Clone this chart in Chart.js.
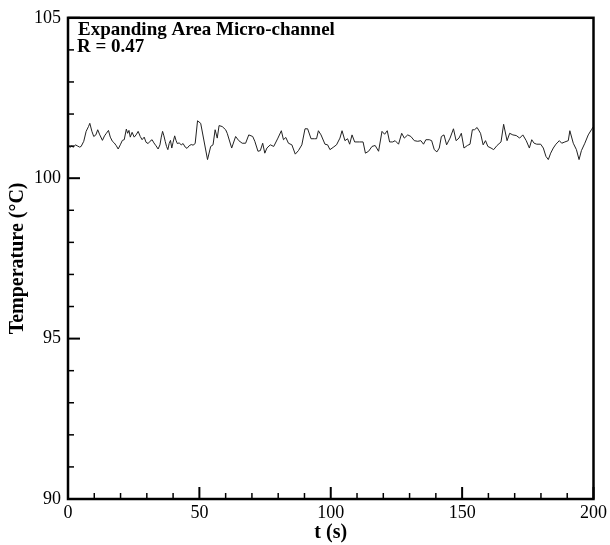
<!DOCTYPE html>
<html>
<head>
<meta charset="utf-8">
<script src="https://cdn.jsdelivr.net/npm/chart.js@4.4.0/dist/chart.umd.min.js"></script>
<style>
html,body{margin:0;padding:0;background:#fff;}
canvas{display:block;}
</style>
</head>
<body>
<canvas id="c" width="610" height="545"></canvas>
<script>
const timeValues = [0,1.0,1.5,2.0,2.8,3.5,4.4,5.0,6.0,6.9,7.8,8.3,9.1,9.8,10.6,11.3,12.1,13.1,13.9,14.6,15.4,16.1,16.9,17.6,18.4,19.1,19.9,20.7,21.4,22.2,22.7,23.2,23.7,24.4,25.2,25.9,26.7,27.5,28.2,29.0,29.7,30.5,31.2,32.0,32.7,33.5,34.3,35.0,35.5,36.0,36.5,37.0,37.5,38.0,38.5,39.0,39.5,40.0,40.6,41.1,41.6,42.3,43.1,43.8,44.6,45.3,46.1,46.9,47.6,48.4,49.3,50.5,53.1,54.3,55.2,56.0,56.8,57.5,58.7,60.0,60.6,62.3,63.8,65.0,66.3,67.6,68.8,70.3,71.1,72.3,73.2,74.1,74.9,75.7,77.0,78.3,79.9,81.2,82.0,82.9,83.9,85.2,86.5,87.7,89.0,90.2,91.2,92.5,93.8,94.6,95.3,96.3,97.8,98.8,99.7,100.9,102.2,103.5,104.3,105.4,106.4,107.2,108.1,109.1,111.0,112.3,113.2,114.4,115.7,116.9,118.2,119.5,120.5,121.5,122.4,123.6,124.5,125.8,127.0,128.0,129.3,130.5,131.8,133.1,134.3,135.3,136.2,137.5,138.4,139.4,140.4,141.3,142.1,143.1,144.1,145.4,146.7,147.7,148.8,149.7,150.7,152.0,153.0,153.9,154.7,155.7,157.0,158.0,158.9,159.8,161.0,162.0,163.3,164.8,165.8,167.1,168.1,169.3,170.6,171.9,173.1,174.4,175.6,176.5,177.4,178.4,179.9,180.9,181.9,182.8,183.7,184.7,185.7,187.0,187.9,189.1,190.4,191.0,192.3,193.5,194.5,195.4,196.7,198.0,199.2,200.0];
const temperatureValues = [100.99,100.97,101.01,100.96,101.04,101.01,100.97,100.99,101.15,101.46,101.61,101.71,101.46,101.30,101.35,101.51,101.35,101.18,101.32,101.40,101.49,101.28,101.15,101.10,101.01,100.91,101.04,101.18,101.20,101.53,101.40,101.49,101.28,101.43,101.28,101.35,101.46,101.30,101.20,101.28,101.12,101.08,101.15,101.20,101.10,101.01,100.91,101.04,101.28,101.46,101.32,101.15,100.99,100.89,101.08,101.18,100.94,101.12,101.32,101.18,101.08,101.10,101.04,101.08,100.97,100.93,101.01,101.05,101.03,101.08,101.79,101.71,100.58,100.99,101.04,101.51,101.25,101.64,101.61,101.51,101.40,100.94,101.30,101.17,101.09,101.09,101.35,101.30,101.15,100.84,100.86,101.09,100.78,100.94,101.04,100.99,101.25,101.48,101.20,101.27,101.09,101.04,100.75,100.86,101.04,101.54,101.54,101.23,101.23,101.23,101.48,101.35,101.06,101.04,100.89,100.96,101.04,101.25,101.48,101.17,101.23,101.06,101.35,101.13,101.13,101.13,100.78,100.84,100.99,101.02,100.84,101.46,101.37,101.48,101.13,101.13,101.17,101.06,101.40,101.25,101.35,101.30,101.17,101.15,101.17,101.06,101.20,101.20,101.17,100.89,100.82,100.94,101.30,101.35,101.04,101.25,101.54,101.17,101.25,101.40,100.94,101.02,101.06,101.51,101.51,101.58,101.40,101.04,101.17,100.99,100.94,100.89,101.02,101.13,101.68,101.17,101.40,101.35,101.33,101.25,101.35,101.17,100.94,101.20,101.09,101.06,101.06,100.94,100.68,100.58,100.78,100.94,101.06,101.17,101.09,101.13,101.17,101.48,101.09,100.89,100.58,100.86,101.09,101.35,101.51,101.61];
const xTickValues = [0,50,100,150,200];
const yTickValues = [90,95,100,105];
const xTitle = 't (s)';
const yTitle = 'Temperature (\u00B0C)';
const annotationLines = ['Expanding Area Micro-channel','R = 0.47'];

const serif = '"Liberation Serif","Times New Roman",serif';
const points = timeValues.map((t,i)=>({x:t,y:temperatureValues[i]}));

const framePlugin = {
  id:'frame',
  afterDatasetsDraw(chart){
    const {ctx, chartArea:a, scales:{x,y}} = chart;
    ctx.save();
    ctx.strokeStyle = '#000';
    // inside ticks
    for(let v=0; v<=200; v+=10){
      const px = x.getPixelForValue(v);
      const major = v%50===0;
      ctx.lineWidth = major?2:1.5;
      ctx.beginPath();
      ctx.moveTo(px, a.bottom);
      ctx.lineTo(px, a.bottom-(major?12:6));
      ctx.stroke();
    }
    for(let v=90; v<=105; v+=1){
      const py = y.getPixelForValue(v);
      const major = v%5===0;
      ctx.lineWidth = major?2:1.5;
      ctx.beginPath();
      ctx.moveTo(a.left, py);
      ctx.lineTo(a.left+(major?12:6), py);
      ctx.stroke();
    }
    ctx.lineWidth = 2.5;
    ctx.strokeRect(a.left, a.top, a.right-a.left, a.bottom-a.top);
    // annotation
    ctx.fillStyle = '#000';
    ctx.font = 'bold 19px ' + serif;
    ctx.textBaseline = 'middle';
    ctx.textAlign = 'left';
    ctx.fillText(annotationLines[0], a.left+10, 30);
    ctx.fillText(annotationLines[1], a.left+9, 47);
    ctx.restore();
  }
};

new Chart(document.getElementById('c'), {
  type:'line',
  data:{datasets:[{data:points, borderColor:'#222', borderWidth:1, pointRadius:0, tension:0, fill:false}]},
  options:{
    responsive:false, animation:false,
    layout:{padding:{top:15,right:13,left:0,bottom:0}},
    plugins:{legend:{display:false}, tooltip:{enabled:false}},
    scales:{
      x:{type:'linear', min:0, max:200,
        afterBuildTicks(s){ s.ticks = xTickValues.map(v=>({value:v})); },
        afterFit(s){ s.height = 46; },
        grid:{display:false, drawTicks:false}, border:{display:false},
        ticks:{font:{family:serif,size:18}, color:'#000', padding:3, maxRotation:0},
        title:{display:true, text:xTitle, color:'#000', font:{family:serif,size:20,weight:'bold'}, padding:{top:0,bottom:0}}
      },
      y:{type:'linear', min:90, max:105,
        afterBuildTicks(s){ s.ticks = yTickValues.map(v=>({value:v})); },
        afterFit(s){ s.width = 68; },
        grid:{display:false, drawTicks:false}, border:{display:false},
        ticks:{font:{family:serif,size:18}, color:'#000', padding:7},
        title:{display:true, text:yTitle, color:'#000', font:{family:serif,size:20,weight:'bold'}, padding:{top:6,bottom:0}}
      }
    }
  },
  plugins:[framePlugin]
});
</script>
</body>
</html>
